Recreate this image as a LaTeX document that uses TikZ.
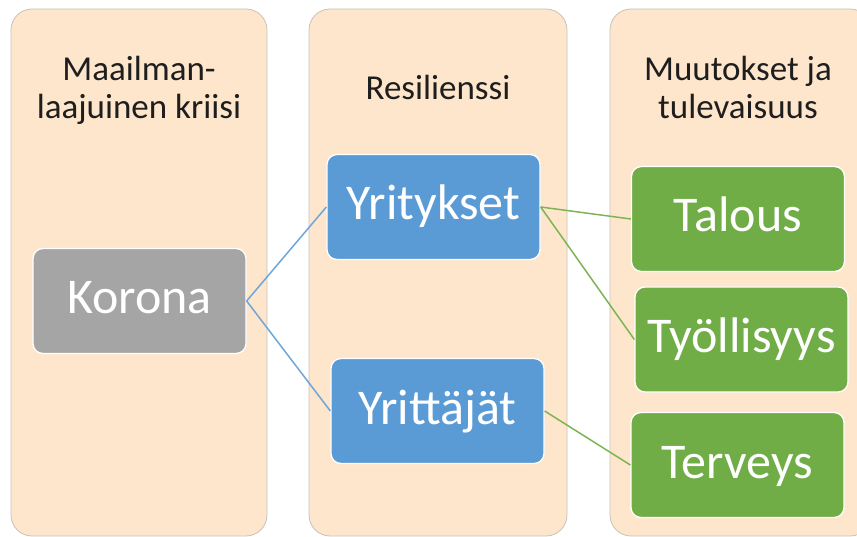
\documentclass[tikz,border=0pt]{standalone}
\usepackage{fontspec}
\setmainfont{Carlito}
\definecolor{peach}{HTML}{FDE6CB}
\definecolor{coledge}{HTML}{C8C2BA}
\definecolor{boxgray}{HTML}{A5A5A5}
\definecolor{boxblue}{HTML}{5B9BD5}
\definecolor{boxgreen}{HTML}{70AD47}
\definecolor{lineblue}{HTML}{6FA6D9}
\definecolor{linegreen}{HTML}{7DB456}
\definecolor{hdrtext}{HTML}{1E1E1E}
\begin{document}
\begin{tikzpicture}[x=1pt,y=-1pt,
  colbg/.style={draw=coledge, line width=0.8pt, fill=peach, rounded corners=21pt, inner sep=0pt},
  hdr/.style={align=center, text=hdrtext, font=\fontsize{35}{38}\selectfont, inner sep=0pt},
  box/.style={rectangle, rounded corners=10pt, draw=white, line width=1.3pt, text=white,
    font=\fontsize{50}{60}\selectfont, inner sep=0pt, minimum width=213pt, minimum height=105pt,
    text height=34pt, text depth=8pt},
  graybox/.style={box, fill=boxgray},
  bluebox/.style={box, fill=boxblue},
  greenbox/.style={box, fill=boxgreen},
  blueconn/.style={draw=lineblue, line width=1.5pt},
  greenconn/.style={draw=linegreen, line width=1.5pt}]
\useasboundingbox (0,0) rectangle (857,537);
\clip (0,0) rectangle (857,537);
% column backgrounds
\node[colbg, minimum width=256pt, minimum height=527pt] (col1) at (139,272.5) {};
\node[colbg, minimum width=258pt, minimum height=527pt] (col2) at (438,272.5) {};
\node[colbg, minimum width=261pt, minimum height=527pt] (col3) at (740.5,272.5) {};
% headers
\node[hdr] (h1) at (139,90) {Maailman-\\laajuinen kriisi};
\node[hdr] (h2) at (438,87) {Resilienssi};
\node[hdr] (h3) at (738,87) {Muutokset ja\\tulevaisuus};
% boxes
\node[graybox] (kor) at (139.5,301) {Korona};
\node[bluebox] (yri) at (433.5,207) {Yritykset};
\node[bluebox] (yrt) at (437.5,411) {Yrittäjät};
\node[greenbox] (tal) at (738,219) {Talous};
\node[greenbox] (tyo) at (741.5,339.5) {Työllisyys};
\node[greenbox] (ter) at (737.5,465) {Terveys};
% connectors
\draw[blueconn] (kor.east) -- (yri.west);
\draw[blueconn] (kor.east) -- (yrt.west);
\draw[greenconn] (yri.east) -- (tal.west);
\draw[greenconn] (yri.east) -- (tyo.west);
\draw[greenconn] (yrt.east) -- (ter.west);
\end{tikzpicture}
\end{document}
